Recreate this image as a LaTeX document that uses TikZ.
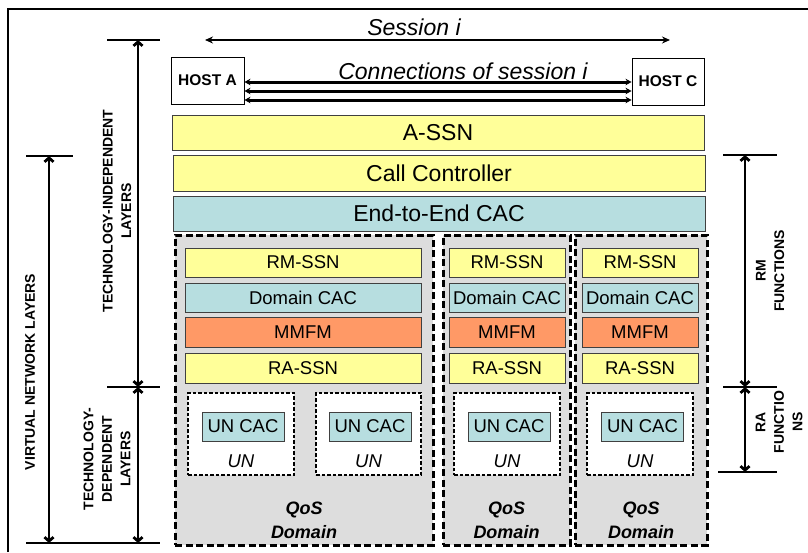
\documentclass[tikz,border=0pt]{standalone}
\usepackage{fontspec}
\setmainfont{Liberation Sans}
\usetikzlibrary{arrows.meta}
\definecolor{ylw}{HTML}{FFFF99}
\definecolor{blu}{HTML}{B7DEE0}
\definecolor{org}{HTML}{FF9966}
\definecolor{gry}{HTML}{DDDDDD}
\tikzset{
  box/.style={draw=black!75, line width=0.9pt, inner sep=0pt, align=center},
  big/.style={box, font=\fontsize{23}{26}\selectfont},
  small/.style={box, font=\fontsize{18.5}{21}\selectfont, minimum height=29},
  hostbox/.style={draw=black, line width=0.9pt, fill=white, inner sep=0pt, font=\bfseries\fontsize{15.5}{18}\selectfont, minimum width=73, minimum height=47},
  domainbox/.style={draw=black, line width=3pt, dash pattern=on 7pt off 3.5pt, fill=gry, inner sep=0pt},
  unbox/.style={draw=black, line width=1.4pt, dash pattern=on 3.5pt off 2pt, fill=white, inner sep=0pt, minimum width=106, minimum height=82},
  sidelbl/.style={font=\bfseries\fontsize{14}{18.5}\selectfont, rotate=90, align=center, inner sep=0pt},
  qos/.style={font=\bfseries\itshape\fontsize{18}{24}\selectfont, align=center, inner sep=0pt},
  unlbl/.style={font=\itshape\fontsize{18.5}{21}\selectfont, inner sep=0pt},
  dimarrow/.style={line width=2.8pt, {Straight Barb[length=4pt,width=9pt]}-{Straight Barb[length=4pt,width=9pt]}},
  tick/.style={line width=1.2pt},
  conn/.style={line width=3pt, {Stealth[length=6pt,width=6.5pt]}-{Stealth[length=6pt,width=6.5pt]}},
}
\begin{document}
\begin{tikzpicture}[x=1pt,y=-1pt]
\useasboundingbox (0,0) rectangle (808,552);
% outer frame
\draw[line width=1.5pt] (8,552) -- (8,9) -- (808,9);

% session arrow
\node[font=\itshape\fontsize{23}{26}\selectfont, inner sep=0pt] (sess) at (414,27) {Session \textit{i}};
\coordinate (sL) at (205,40);
\coordinate (sR) at (670,40);
\draw[line width=2.6pt, {Stealth[length=8pt,width=7pt]}-{Stealth[length=8pt,width=7pt]}] (sL) -- (sR);

% hosts
\node[hostbox] (hA) at (207.5,80.5) {HOST A};
\node[hostbox, minimum width=72] (hC) at (668,81.5) {HOST C};
\node[font=\itshape\fontsize{23}{26}\selectfont, inner sep=0pt] (connlbl) at (463,71) {Connections of session \textit{i}};
\draw[conn] ([yshift=-1.5pt]hA.east) -- ([yshift=-1.5pt]hA.east -| hC.west);
\draw[conn] ([yshift=-10.5pt]hA.east) -- ([yshift=-10.5pt]hA.east -| hC.west);
\draw[conn] ([yshift=-19.5pt]hA.east) -- ([yshift=-19.5pt]hA.east -| hC.west);

% top layers
\node[big, fill=ylw, minimum width=532, minimum height=35] (assn) at (438,132.5) {A-SSN};
\node[big, fill=ylw, minimum width=532, minimum height=36] (cc) at (439,173) {Call Controller};
\node[big, fill=blu, minimum width=532, minimum height=35] (e2e) at (439,213.5) {End-to-End CAC};

% domains
\node[domainbox, minimum width=258, minimum height=310] (d1) at (304,390) {};
\node[domainbox, minimum width=127, minimum height=310] (d2) at (506.5,390) {};
\node[domainbox, minimum width=132, minimum height=310] (d3) at (641,390) {};

% domain 1 inner
\node[small, fill=ylw, minimum width=236] (rm1) at (303,262.5) {RM-SSN};
\node[small, fill=blu, minimum width=236] (dc1) at (303,297.5) {Domain CAC};
\node[small, fill=org, minimum width=236, minimum height=30] (mm1) at (303,332) {MMFM};
\node[small, fill=ylw, minimum width=236, minimum height=30] (ra1) at (303,368) {RA-SSN};
% domain 2 inner
\node[small, fill=ylw, minimum width=116] (rm2) at (507,262.5) {RM-SSN};
\node[small, fill=blu, minimum width=116] (dc2) at (507,297.5) {Domain CAC};
\node[small, fill=org, minimum width=116, minimum height=30] (mm2) at (507,332) {MMFM};
\node[small, fill=ylw, minimum width=116, minimum height=30] (ra2) at (507,368) {RA-SSN};
% domain 3 inner
\node[small, fill=ylw, minimum width=116] (rm3) at (640,262.5) {RM-SSN};
\node[small, fill=blu, minimum width=116] (dc3) at (640,297.5) {Domain CAC};
\node[small, fill=org, minimum width=116, minimum height=30] (mm3) at (640,332) {MMFM};
\node[small, fill=ylw, minimum width=116, minimum height=30] (ra3) at (640,368) {RA-SSN};

% UN boxes
\node[unbox] (un1) at (241,434) {};
\node[unbox, minimum width=105] (un2) at (368.5,434) {};
\node[unbox] (un3) at (507,434) {};
\node[unbox] (un4) at (640,434) {};
\node[small, fill=blu, minimum width=82] (uc1) at (243,426.5) {UN CAC};
\node[small, fill=blu, minimum width=82] (uc2) at (370,426.5) {UN CAC};
\node[small, fill=blu, minimum width=82] (uc3) at (509,426.5) {UN CAC};
\node[small, fill=blu, minimum width=82] (uc4) at (642.5,426.5) {UN CAC};
\node[unlbl] (ul1) at (241,461) {UN};
\node[unlbl] (ul2) at (368.5,461) {UN};
\node[unlbl] (ul3) at (507,461) {UN};
\node[unlbl] (ul4) at (640,461) {UN};

% QoS domain labels
\node[qos] (q1) at (304,520) {QoS\\Domain};
\node[qos] (q2) at (506.5,520) {QoS\\Domain};
\node[qos] (q3) at (641,520) {QoS\\Domain};

% left dimension lines
\coordinate (tiA) at (107,40);  \coordinate (tiB) at (160,40);
\coordinate (vnA) at (26,156);  \coordinate (vnB) at (73,156);
\coordinate (mdA) at (107,387); \coordinate (mdB) at (160,387);
\coordinate (btA) at (26,543);  \coordinate (btB) at (160,543);
\draw[tick] (tiA) -- (tiB);
\draw[tick] (vnA) -- (vnB);
\draw[tick] (mdA) -- (mdB);
\draw[tick] (btA) -- (btB);
\coordinate (a1t) at (138,40);  \coordinate (a1b) at (138,387);
\coordinate (a2t) at (138,387); \coordinate (a2b) at (138,543);
\coordinate (a3t) at (49,156);  \coordinate (a3b) at (49,543);
\draw[dimarrow] (a1t) -- (a1b);
\draw[dimarrow] (a2t) -- (a2b);
\draw[dimarrow] (a3t) -- (a3b);
\node[sidelbl] (vnl) at (30,372) {VIRTUAL NETWORK LAYERS};
\node[sidelbl] (til) at (117,211) {TECHNOLOGY-INDEPENDENT\\LAYERS};
\node[sidelbl] (tdl) at (107,459) {TECHNOLOGY-\\DEPENDENT\\LAYERS};

% right dimension lines
\coordinate (rtA) at (723,155); \coordinate (rtB) at (777,155);
\coordinate (rmA) at (723,387); \coordinate (rmB) at (777,387);
\coordinate (rbA) at (718,472); \coordinate (rbB) at (777,472);
\draw[tick] (rtA) -- (rtB);
\draw[tick] (rmA) -- (rmB);
\draw[tick] (rbA) -- (rbB);
\coordinate (r1t) at (745,155); \coordinate (r1b) at (745,387);
\coordinate (r2t) at (745,387); \coordinate (r2b) at (745,472);
\draw[dimarrow] (r1t) -- (r1b);
\draw[dimarrow] (r2t) -- (r2b);
\node[sidelbl] (rml) at (770,271) {RM\\FUNCTIONS};
\node[sidelbl] (ral) at (779,422) {RA\\FUNCTIO\\NS};
\end{tikzpicture}
\end{document}
